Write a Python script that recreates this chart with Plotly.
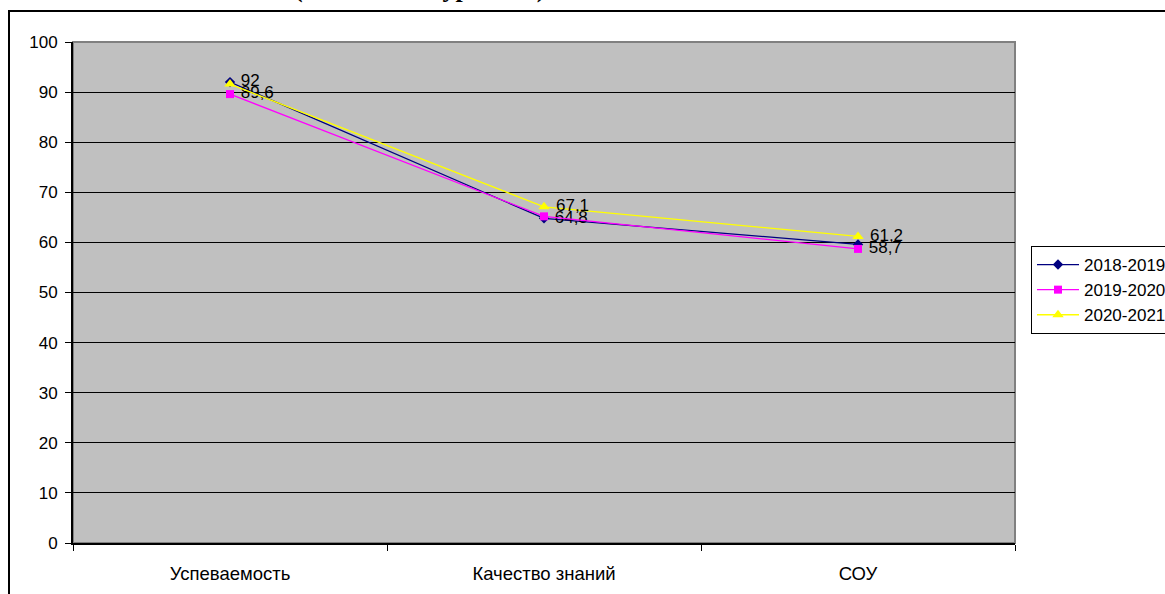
import plotly.graph_objects as go

categories = ["Успеваемость", "Качество знаний", "СОУ"]

series_names = ["2018-2019", "2019-2020", "2020-2021"]
vals_2018 = [92, 64.8, 59.6]
vals_2019 = [89.6, 65.2, 58.7]
vals_2020 = [91.6, 67.1, 61.2]
labels_2018 = ["92", "64,8", ""]
labels_2019 = ["89,6", "", "58,7"]
labels_2020 = ["", "67,1", "61,2"]

y_ticks = [0, 10, 20, 30, 40, 50, 60, 70, 80, 90, 100]
title_text = "(начальный уровень)"

W, H = 1165, 594
L, R, T, B = 73, 1015, 42, 543
pw, ph = R - L, B - T

def px_x(x):
    return (x - L) / pw

def px_y(y):
    return (B - y) / ph

FONT = "Arial, Liberation Sans, sans-serif"

fig = go.Figure()
styles = [
    ("#000080", "diamond", 8, vals_2018, labels_2018),
    ("#FF00FF", "square", 8, vals_2019, labels_2019),
    ("#FFFF00", "triangle-up", 10, vals_2020, labels_2020),
]
for i, (name, (col, sym, sz, vals, labs)) in enumerate(zip(series_names, styles)):
    fig.add_trace(go.Scatter(
        x=categories, y=vals, name=name, mode="lines+markers+text",
        line=dict(color=col, width=1.3),
        marker=dict(color=col, symbol=sym, size=sz, line=dict(width=0)),
        text=labs, texttemplate=" %{text}", textposition="middle right",
        textfont=dict(family=FONT, size=17, color="black"),
        legendgroup=name, cliponaxis=False,
    ))

fig.update_layout(
    width=W, height=H, autosize=False,
    margin=dict(l=L, r=W - R, t=T, b=H - B, pad=0, autoexpand=False),
    paper_bgcolor="white", plot_bgcolor="#C0C0C0",
    font=dict(family=FONT, size=17, color="black"),
    showlegend=True,
    legend=dict(
        xref="container", yref="container",
        x=1031 / W, xanchor="left", y=(H - 290) / H, yanchor="middle",
        bgcolor="white", bordercolor="black", borderwidth=1,
        font=dict(family=FONT, size=17, color="black"),
        traceorder="grouped", tracegroupgap=0, itemwidth=42,
    ),
    xaxis=dict(
        type="category", range=[-0.5, 2.5], tickson="boundaries",
        ticks="outside", ticklen=6, tickcolor="black", tickwidth=1,
        showline=True, linecolor="black", linewidth=2,
        showgrid=False, zeroline=False, automargin=False,
        tickfont=dict(family=FONT, size=18.5),
        ticklabelstandoff=13,
    ),
    yaxis=dict(
        range=[0, 100], tickvals=y_ticks,
        ticks="outside", ticklen=6, tickcolor="black", tickwidth=1,
        showline=True, linecolor="black", linewidth=2,
        showgrid=True, gridcolor="black", gridwidth=1,
        zeroline=False, automargin=False,
        tickfont=dict(family=FONT, size=17),
        ticklabelstandoff=4,
    ),
    shapes=[
        dict(type="rect", xref="paper", yref="paper", x0=0, x1=1, y0=0, y1=1,
             line=dict(color="#808080", width=2), layer="below"),
        dict(type="rect", xref="paper", yref="paper",
             x0=px_x(9), x1=px_x(1175), y0=px_y(604), y1=px_y(11),
             line=dict(color="black", width=2), layer="above"),
    ],
    annotations=[
        dict(text="<b>" + title_text + "</b>", xref="paper", yref="paper",
             x=px_x(419), y=px_y(4), xanchor="center", yanchor="bottom",
             showarrow=False, borderpad=0,
             font=dict(family="Liberation Serif, Times New Roman, serif", size=26, color="black")),
    ],
)

fig.write_html(
    "out.html",
    config={"responsive": False, "displayModeBar": False},
    post_script="document.body.style.margin='0';document.body.style.padding='0';document.body.style.overflow='hidden';",
)
